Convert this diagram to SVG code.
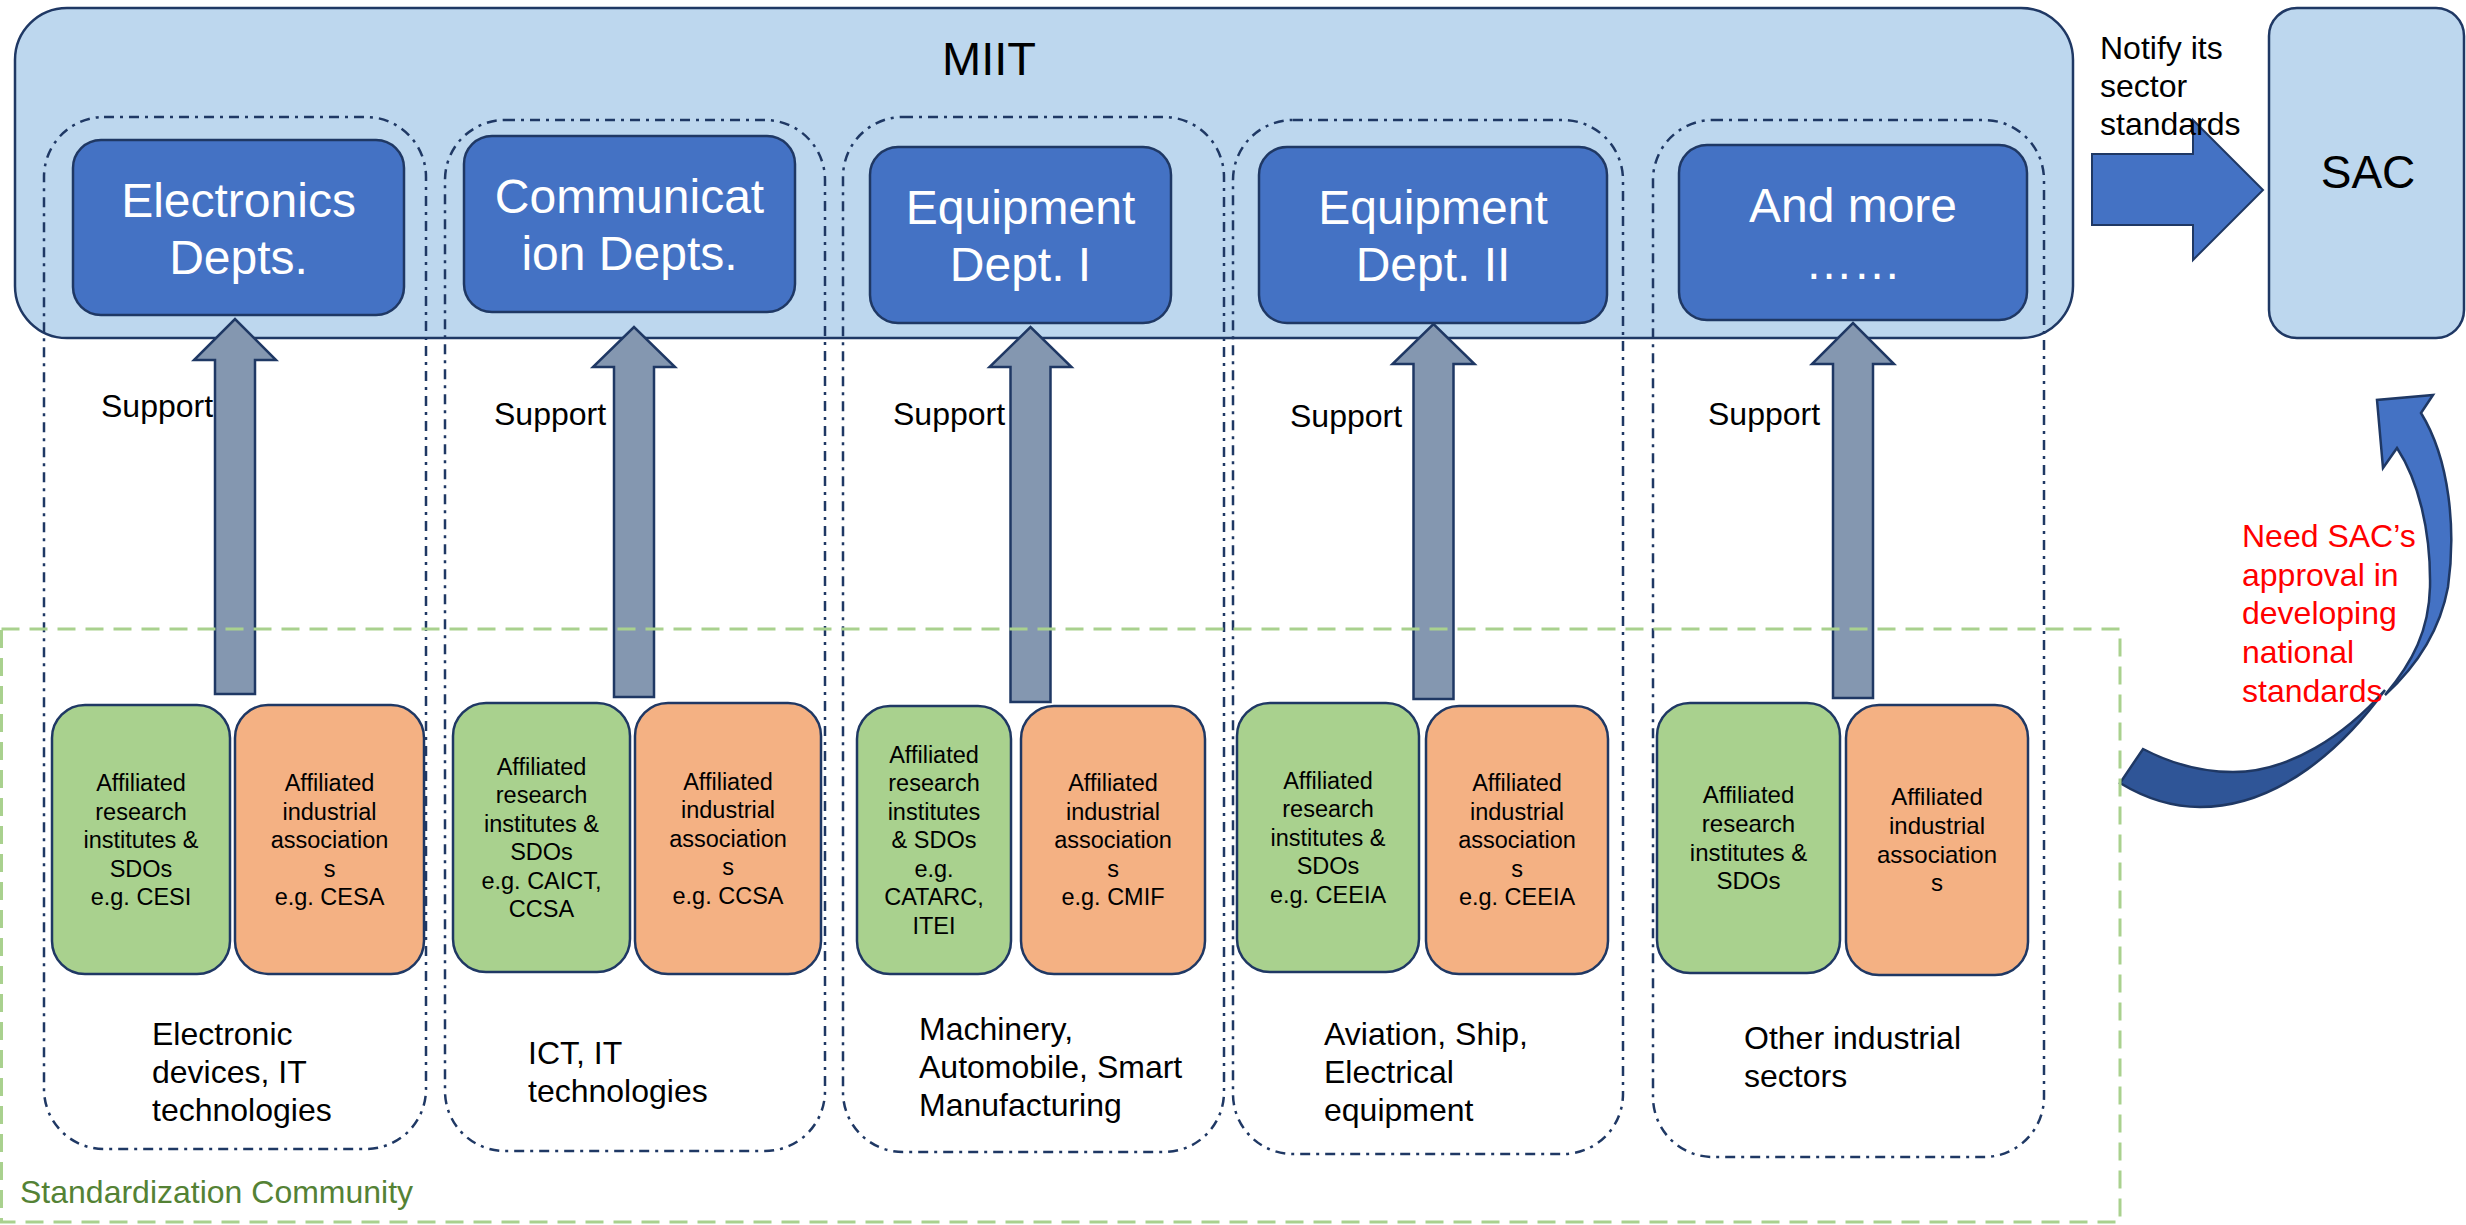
<svg xmlns="http://www.w3.org/2000/svg" width="2466" height="1225" viewBox="0 0 2466 1225">
<style>
text{font-family:"Liberation Sans",Arial,sans-serif;}
.big{fill:#BDD7EE;stroke:#1F3864;stroke-width:2.5}
.dept{fill:#4472C4;stroke:#1F3864;stroke-width:2.5}
.cont{fill:none;stroke:#1F3864;stroke-width:2.5;stroke-dasharray:10 6 3 6}
.gbox{fill:#A9D18E;stroke:#1F3864;stroke-width:2.5}
.obox{fill:#F4B183;stroke:#1F3864;stroke-width:2.5}
.up{fill:#8497B0;stroke:#1F3864;stroke-width:2.5}
.comm{fill:none;stroke:#A9D18E;stroke-width:3;stroke-dasharray:18 10}
.dt{font-size:48px;fill:#FFFFFF;text-anchor:middle}
.bt{font-size:23.5px;fill:#000;text-anchor:middle}
.bt5{font-size:24px;fill:#000;text-anchor:middle}
.st{font-size:32px;fill:#000}
.lbl{font-size:32px;fill:#000}
</style>

<g id="miit">
  <rect class="big" x="15" y="8" width="2058" height="330" rx="52"/>
  <text x="989" y="75" style="font-size:47px;fill:#000" text-anchor="middle">MIIT</text>
</g>
<g id="sac">
  <rect class="big" x="2269" y="8" width="195" height="330" rx="28"/>
  <text x="2368" y="188" style="font-size:46px;fill:#000" text-anchor="middle">SAC</text>
</g>

<g id="sector-containers">
  <rect id="sector1" class="cont" x="44" y="117" width="382" height="1032" rx="60"/>
  <rect id="sector2" class="cont" x="445" y="120" width="380" height="1031" rx="60"/>
  <rect id="sector3" class="cont" x="843" y="117" width="381" height="1035" rx="60"/>
  <rect id="sector4" class="cont" x="1233" y="120" width="390" height="1034" rx="60"/>
  <rect id="sector5" class="cont" x="1653" y="120" width="391" height="1037" rx="60"/>
</g>

<g id="dept1">
  <rect class="dept" x="73" y="140" width="331" height="175" rx="28"/>
  <text class="dt" x="238.5" y="216.5">Electronics<tspan x="238.5" dy="57">Depts.</tspan></text>
</g>
<g id="dept2">
  <rect class="dept" x="464" y="136" width="331" height="176" rx="28"/>
  <text class="dt" x="629.5" y="213">Communicat<tspan x="629.5" dy="57">ion Depts.</tspan></text>
</g>
<g id="dept3">
  <rect class="dept" x="870" y="147" width="301" height="176" rx="28"/>
  <text class="dt" x="1020.5" y="224">Equipment<tspan x="1020.5" dy="57">Dept. I</tspan></text>
</g>
<g id="dept4">
  <rect class="dept" x="1259" y="147" width="348" height="176" rx="28"/>
  <text class="dt" x="1433" y="224">Equipment<tspan x="1433" dy="57">Dept. II</tspan></text>
</g>
<g id="dept5">
  <rect class="dept" x="1679" y="145" width="348" height="175" rx="28"/>
  <text class="dt" x="1853" y="221.5">And more<tspan x="1853" dy="57">……</tspan></text>
</g>

<g id="g1-research">
  <rect class="gbox" x="52" y="705" width="178" height="269" rx="33"/>
  <text class="bt" x="141" y="791">Affiliated<tspan x="141" dy="28.5">research</tspan><tspan x="141" dy="28.5">institutes &amp;</tspan><tspan x="141" dy="28.5">SDOs</tspan><tspan x="141" dy="28.5">e.g. CESI</tspan></text>
</g>
<g id="g1-assoc">
  <rect class="obox" x="235" y="705" width="189" height="269" rx="33"/>
  <text class="bt" x="329.5" y="791">Affiliated<tspan x="329.5" dy="28.5">industrial</tspan><tspan x="329.5" dy="28.5">association</tspan><tspan x="329.5" dy="28.5">s</tspan><tspan x="329.5" dy="28.5">e.g. CESA</tspan></text>
</g>
<g id="g2-research">
  <rect class="gbox" x="453" y="703" width="177" height="269" rx="33"/>
  <text class="bt" x="541.5" y="774.5">Affiliated<tspan x="541.5" dy="28.5">research</tspan><tspan x="541.5" dy="28.5">institutes &amp;</tspan><tspan x="541.5" dy="28.5">SDOs</tspan><tspan x="541.5" dy="28.5">e.g. CAICT,</tspan><tspan x="541.5" dy="28.5">CCSA</tspan></text>
</g>
<g id="g2-assoc">
  <rect class="obox" x="635" y="703" width="186" height="271" rx="33"/>
  <text class="bt" x="728" y="789.5">Affiliated<tspan x="728" dy="28.5">industrial</tspan><tspan x="728" dy="28.5">association</tspan><tspan x="728" dy="28.5">s</tspan><tspan x="728" dy="28.5">e.g. CCSA</tspan></text>
</g>
<g id="g3-research">
  <rect class="gbox" x="857" y="706" width="154" height="268" rx="33"/>
  <text class="bt" x="934" y="762.5">Affiliated<tspan x="934" dy="28.5">research</tspan><tspan x="934" dy="28.5">institutes</tspan><tspan x="934" dy="28.5">&amp; SDOs</tspan><tspan x="934" dy="28.5">e.g.</tspan><tspan x="934" dy="28.5">CATARC,</tspan><tspan x="934" dy="28.5">ITEI</tspan></text>
</g>
<g id="g3-assoc">
  <rect class="obox" x="1021" y="706" width="184" height="268" rx="33"/>
  <text class="bt" x="1113" y="791">Affiliated<tspan x="1113" dy="28.5">industrial</tspan><tspan x="1113" dy="28.5">association</tspan><tspan x="1113" dy="28.5">s</tspan><tspan x="1113" dy="28.5">e.g. CMIF</tspan></text>
</g>
<g id="g4-research">
  <rect class="gbox" x="1237" y="703" width="182" height="269" rx="33"/>
  <text class="bt" x="1328" y="788.5">Affiliated<tspan x="1328" dy="28.5">research</tspan><tspan x="1328" dy="28.5">institutes &amp;</tspan><tspan x="1328" dy="28.5">SDOs</tspan><tspan x="1328" dy="28.5">e.g. CEEIA</tspan></text>
</g>
<g id="g4-assoc">
  <rect class="obox" x="1426" y="706" width="182" height="268" rx="33"/>
  <text class="bt" x="1517" y="791">Affiliated<tspan x="1517" dy="28.5">industrial</tspan><tspan x="1517" dy="28.5">association</tspan><tspan x="1517" dy="28.5">s</tspan><tspan x="1517" dy="28.5">e.g. CEEIA</tspan></text>
</g>
<g id="g5-research">
  <rect class="gbox" x="1657" y="703" width="183" height="270" rx="33"/>
  <text class="bt5" x="1748.5" y="803">Affiliated<tspan x="1748.5" dy="28.8">research</tspan><tspan x="1748.5" dy="28.8">institutes &amp;</tspan><tspan x="1748.5" dy="28.8">SDOs</tspan></text>
</g>
<g id="g5-assoc">
  <rect class="obox" x="1846" y="705" width="182" height="270" rx="33"/>
  <text class="bt5" x="1937" y="805">Affiliated<tspan x="1937" dy="28.8">industrial</tspan><tspan x="1937" dy="28.8">association</tspan><tspan x="1937" dy="28.8">s</tspan></text>
</g>

<g id="connectors">
  <path class="up" d="M215,694 V360 H194 L235,319 L276,360 H255 V694 Z"/>
  <path class="up" d="M614,697 V367 H593 L634,327 L675,367 H654 V697 Z"/>
  <path class="up" d="M1010.5,702 V367 H989.5 L1030.5,327 L1071.5,367 H1050.5 V702 Z"/>
  <path class="up" d="M1413.5,699 V364 H1392.5 L1433.5,324 L1474.5,364 H1453.5 V699 Z"/>
  <path class="up" d="M1833,698 V364 H1812 L1853,323 L1894,364 H1873 V698 Z"/>
  <path id="notify-arrow" d="M2092,154 H2193 V120 L2263,190 L2193,260 V225 H2092 Z" fill="#4472C4" stroke="#1F3864" stroke-width="2"/>
  <path id="approval-arrow-back" d="M2385,690 C2345,745 2280,807 2200,807 C2170,807 2143,797 2120,783 L2143,749 C2170,763 2200,772 2233,772 C2290,772 2345,735 2385,690 Z" fill="#2F5597" stroke="#1F3864" stroke-width="2.5"/>
  <path id="approval-arrow-front" d="M2421,413 L2433,395 L2377,400 L2383,468 L2397,448 C2418,480 2431,530 2430,587 C2429,630 2413,662 2385,695 C2418,665 2440,630 2448,587 C2456,530 2450,460 2421,413 Z" fill="#4472C4" stroke="#1F3864" stroke-width="2.5"/>
</g>

<g id="standardization-community">
  <rect class="comm" x="1.5" y="629" width="2118.5" height="593"/>
  <text x="20" y="1203" style="font-size:32px;fill:#548235">Standardization Community</text>
</g>

<g id="labels">
  <text class="lbl" x="101" y="417">Support</text>
  <text class="lbl" x="494" y="425">Support</text>
  <text class="lbl" x="893" y="425">Support</text>
  <text class="lbl" x="1290" y="427">Support</text>
  <text class="lbl" x="1708" y="425">Support</text>
  <text class="lbl" x="2100" y="59">Notify its<tspan x="2100" dy="38">sector</tspan><tspan x="2100" dy="38">standards</tspan></text>
  <text class="lbl" x="2242" y="547" style="fill:#FF0000">Need SAC’s<tspan x="2242" dy="38.7">approval in</tspan><tspan x="2242" dy="38.7">developing</tspan><tspan x="2242" dy="38.7">national</tspan><tspan x="2242" dy="38.7">standards</tspan></text>
  <text class="st" x="152" y="1045">Electronic<tspan x="152" dy="38">devices, IT</tspan><tspan x="152" dy="38">technologies</tspan></text>
  <text class="st" x="528" y="1064">ICT, IT<tspan x="528" dy="38">technologies</tspan></text>
  <text class="st" x="919" y="1040">Machinery,<tspan x="919" dy="38">Automobile, Smart</tspan><tspan x="919" dy="38">Manufacturing</tspan></text>
  <text class="st" x="1324" y="1045">Aviation, Ship,<tspan x="1324" dy="38">Electrical</tspan><tspan x="1324" dy="38">equipment</tspan></text>
  <text class="st" x="1744" y="1049">Other industrial<tspan x="1744" dy="38">sectors</tspan></text>
</g>
</svg>
